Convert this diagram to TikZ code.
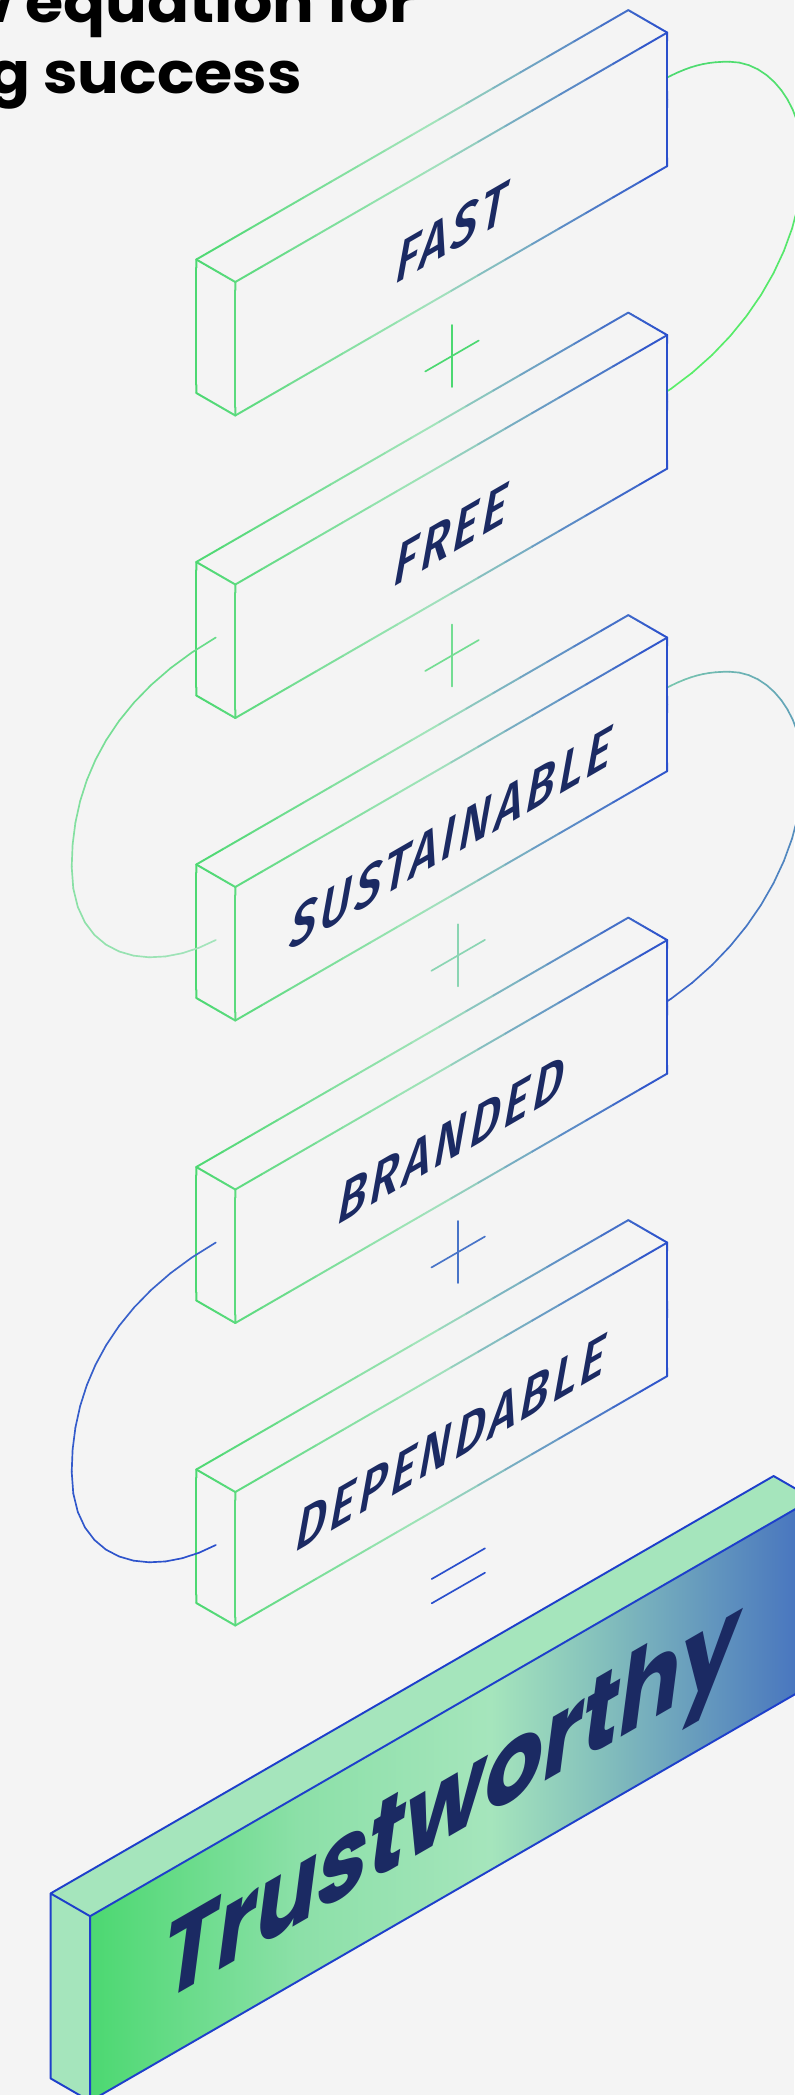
\documentclass[tikz,border=0pt]{standalone}
\usepackage{fontspec}
\usetikzlibrary{calc}

\newfontfamily\titlefont{Poppins}
\newfontfamily\labelfont{Fira Sans Medium}[LetterSpace=8]
\newfontfamily\trustfont{Poppins}

\definecolor{paper}{HTML}{F4F4F4}
\definecolor{ink}{HTML}{1B2A63}
\definecolor{edgegreen}{HTML}{4CD871}
\definecolor{edgemid}{HTML}{A4E4BC}
\definecolor{edgeblue}{HTML}{2A4FCC}
\definecolor{trustline}{HTML}{1E3FCB}
\definecolor{trustlight}{HTML}{A5E5BC}
\definecolor{trustgreen}{HTML}{4CD871}
\definecolor{trustmint}{HTML}{8CE0A8}
\definecolor{trustteal}{HTML}{84C0BC}
\definecolor{trustblue}{HTML}{4470BF}

\pgfdeclarehorizontalshading{trustfront}{100bp}{color(0bp)=(trustgreen); color(25bp)=(trustgreen); color(39.5bp)=(trustmint); color(52.7bp)=(trustlight); color(60.3bp)=(trustteal); color(75bp)=(trustblue); color(100bp)=(trustblue)}

\pgfdeclarelayer{ground}
\pgfdeclarelayer{cables}
\pgfsetlayers{ground,cables,main}

\tikzset{
  boxedge/.style={line width=1.45pt, line cap=round},
  cable/.style={line width=1.25pt, line cap=round},
  signline/.style={line width=1.25pt, line cap=round},
  boxlabel/.style={inner sep=0pt, text=ink, font=\labelfont\fontsize{47}{47}\selectfont, cm={0.753,0.435,0.18,1,(0,0)}},
  trustlabel/.style={inner sep=0pt, text=ink, font=\trustfont\bfseries\fontsize{86}{86}\selectfont, cm={0.797,0.46,0.13,1,(0,0)}},
  titletext/.style={inner sep=0pt, text=black, font=\titlefont\bfseries\fontsize{43}{43}\selectfont, xscale=1.08},
}

% one edge of a box, coloured green -> mint -> blue from left to right
\newcommand\gradedge[4]{%
  \foreach \k in {0,...,15} {
    \pgfmathsetmacro\ta{\k/16}
    \pgfmathsetmacro\tb{(\k+1)/16}
    \pgfmathsetmacro\gx{#3+(#4-#3)*(\k+0.5)/16}
    \ifdim\gx pt<431.75pt
      \pgfmathsetmacro\gp{max(0,min(100,(\gx-196.3)/2.3545))}
      \colorlet{ec}{edgemid!\gp!edgegreen}
    \else
      \pgfmathsetmacro\gp{max(0,min(100,(\gx-431.75)/2.3545))}
      \colorlet{ec}{edgeblue!\gp!edgemid}
    \fi
    \draw[boxedge, ec] ($(#1)!\ta!(#2)$) -- ($(#1)!\tb!(#2)$);
  }}

% isometric box: name, y offset, label
\newcommand\isobox[3]{%
  \begin{scope}[shift={(0,#2)}]
    \coordinate (#1-btl) at (196.3,259.5);
    \coordinate (#1-btr) at (628.3,10.1);
    \coordinate (#1-ftl) at (235.3,282);
    \coordinate (#1-ftr) at (667.2,32.6);
    \coordinate (#1-fbr) at (667.2,166.1);
    \coordinate (#1-fbl) at (235.3,415.5);
    \coordinate (#1-bbl) at (196.3,393);
    \coordinate (#1-l) at (215.8,335);
    \coordinate (#1-r) at (647.75,88.1);
    \fill[paper] (#1-btl) -- (#1-btr) -- (#1-ftr) -- (#1-fbr) -- (#1-fbl) -- (#1-bbl) -- cycle;
    \gradedge{#1-btl}{#1-btr}{196.3}{628.3}
    \gradedge{#1-ftl}{#1-ftr}{235.3}{667.2}
    \gradedge{#1-fbl}{#1-fbr}{235.3}{667.2}
    \gradedge{#1-btr}{#1-ftr}{628.3}{667.2}
    \gradedge{#1-ftr}{#1-fbr}{667.2}{667.2}
    \gradedge{#1-btl}{#1-ftl}{196.3}{235.3}
    \gradedge{#1-ftl}{#1-fbl}{235.3}{235.3}
    \gradedge{#1-btl}{#1-bbl}{196.3}{196.3}
    \gradedge{#1-bbl}{#1-fbl}{196.3}{235.3}
    \node[boxlabel] (#1-lbl) at (452,232) {#3};
  \end{scope}}

% piece of cable: start, control, control, end, colour % at start, at end
\newcommand\cablepiece[6]{%
  \foreach \k in {0,...,12}
    \path #1 .. controls #2 and #3 .. #4 coordinate[pos=\k/12] (cb\k);
  \foreach \k [evaluate=\k as \j using int(\k+1),
               evaluate=\k as \p using #5+(#6-#5)*(\k+0.5)/12] in {0,...,11}
    \draw[cable, cabletwo!\p!cableone] (cb\k) -- (cb\j);
}

% cable round the right ends: from box, to box, colours, drop
\newcommand\rightloop[5]{%
  \colorlet{cableone}{#3}\colorlet{cabletwo}{#4}
  \coordinate (#1-rs) at ($(#1-r)+(0,#5)$);
  \coordinate (#1-re) at ($(#2-r)+(0,13+#5)$);
  \coordinate (#1-rtop) at ($(#1-rs)+(81.5,-26.4)$);
  \coordinate (#1-rfar) at ($(#1-rs)+(155.25,72)$);
  \cablepiece{(#1-rs)}{+(35,-20)}{+(-29.3,0)}{(#1-rtop)}{0}{20}
  \cablepiece{(#1-rtop)}{+(40.7,0)}{+(0,-55)}{(#1-rfar)}{20}{45}
  \cablepiece{(#1-rfar)}{+(0,90)}{+(95,-55)}{(#1-re)}{45}{100}
}

% cable round the left ends
\newcommand\leftloop[4]{%
  \colorlet{cableone}{#3}\colorlet{cabletwo}{#4}
  \coordinate (#1-lfar) at ($(#1-l)+(-144.1,229.2)$);
  \cablepiece{(#1-l)}{+(-100,57.7)}{+(0,-90)}{(#1-lfar)}{0}{55}
  \cablepiece{(#1-lfar)}{+(0,93.3)}{+(-65.8,35)}{(#2-l)}{55}{100}
}

\newcommand\plussign[4]{%
  \coordinate (#1) at (#2,#3);
  \draw[signline, #4] ($(#1)+(0,-31)$) -- ($(#1)+(0,31)$);
  \draw[signline, #4] ($(#1)+(-26.8,15.5)$) -- ($(#1)+(26.8,-15.5)$);
}

\begin{document}
\begin{tikzpicture}[x=0.75pt, y=-0.75pt]
  \useasboundingbox (0,0) rectangle (794,2095);
  \begin{pgfonlayer}{ground}
    \fill[paper] (0,0) rectangle (794,2095);
  \end{pgfonlayer}

  % the five boxes
  \isobox{fast}{0}{FAST}
  \isobox{free}{302.5}{FREE}
  \isobox{sust}{605}{SUSTAINABLE}
  \isobox{brand}{907.5}{BRANDED}
  \isobox{dep}{1210}{DEPENDABLE}

  % cables behind the right ends
  \begin{pgfonlayer}{cables}
    \rightloop{fast}{free}{edgegreen}{green!45!edgemid}{0}
    \rightloop{sust}{brand}{teal!25!edgemid}{edgeblue!90!edgemid}{5}
  \end{pgfonlayer}

  % cables out of the left ends
  \leftloop{free}{sust}{edgegreen!70!edgemid}{edgemid}
  \leftloop{brand}{dep}{edgeblue!85!edgemid}{edgeblue}

  % operators
  \plussign{plus1}{452}{356}{edgegreen}
  \plussign{plus2}{452}{655.5}{edgegreen!55!edgemid}
  \plussign{plus3}{458.2}{955.3}{edgemid!85!teal}
  \plussign{plus4}{458.2}{1252}{edgeblue!75!edgemid}
  \coordinate (eq) at (458.3,1575.8);
  \draw[signline, edgeblue] ($(eq)+(-26.6,3.2)$) -- ($(eq)+(26.7,-27.5)$);
  \draw[signline, edgeblue] ($(eq)+(-26.6,27.5)$) -- ($(eq)+(26.7,-3.1)$);

  % result box
  \coordinate (trust-btl) at (50.6,1893.4);
  \coordinate (trust-btr) at (773.6,1476);
  \coordinate (trust-ftl) at (90.1,1916.2);
  \coordinate (trust-ftr) at (813.1,1498.8);
  \coordinate (trust-fbr) at (813.1,1683.8);
  \coordinate (trust-fbl) at (90.1,2101.2);
  \coordinate (trust-bbl) at (50.6,2078.4);
  \fill[trustlight] (trust-btl) -- (trust-btr) -- (trust-ftr) -- (trust-ftl) -- cycle;
  \fill[trustlight] (trust-btl) -- (trust-ftl) -- (trust-fbl) -- (trust-bbl) -- cycle;
  \shade[shading=trustfront] (trust-ftl) -- (trust-ftr) -- (trust-fbr) -- (trust-fbl) -- cycle;
  \draw[boxedge, trustline, line join=round]
    (trust-btl) -- (trust-btr) -- (trust-ftr) -- (trust-ftl) -- cycle
    (trust-ftl) -- (trust-fbl) -- (trust-fbr) -- (trust-ftr)
    (trust-btl) -- (trust-bbl) -- (trust-fbl);
  \node[trustlabel, anchor=base] (trust-lbl) at (447,1838) {Trustworthy};

  % heading
  \node[titletext, anchor=base east] (title-a) at (416,22.7) {w equation for};
  \node[titletext, anchor=base east] (title-b) at (302,93.3) {g success};
\end{tikzpicture}
\end{document}
